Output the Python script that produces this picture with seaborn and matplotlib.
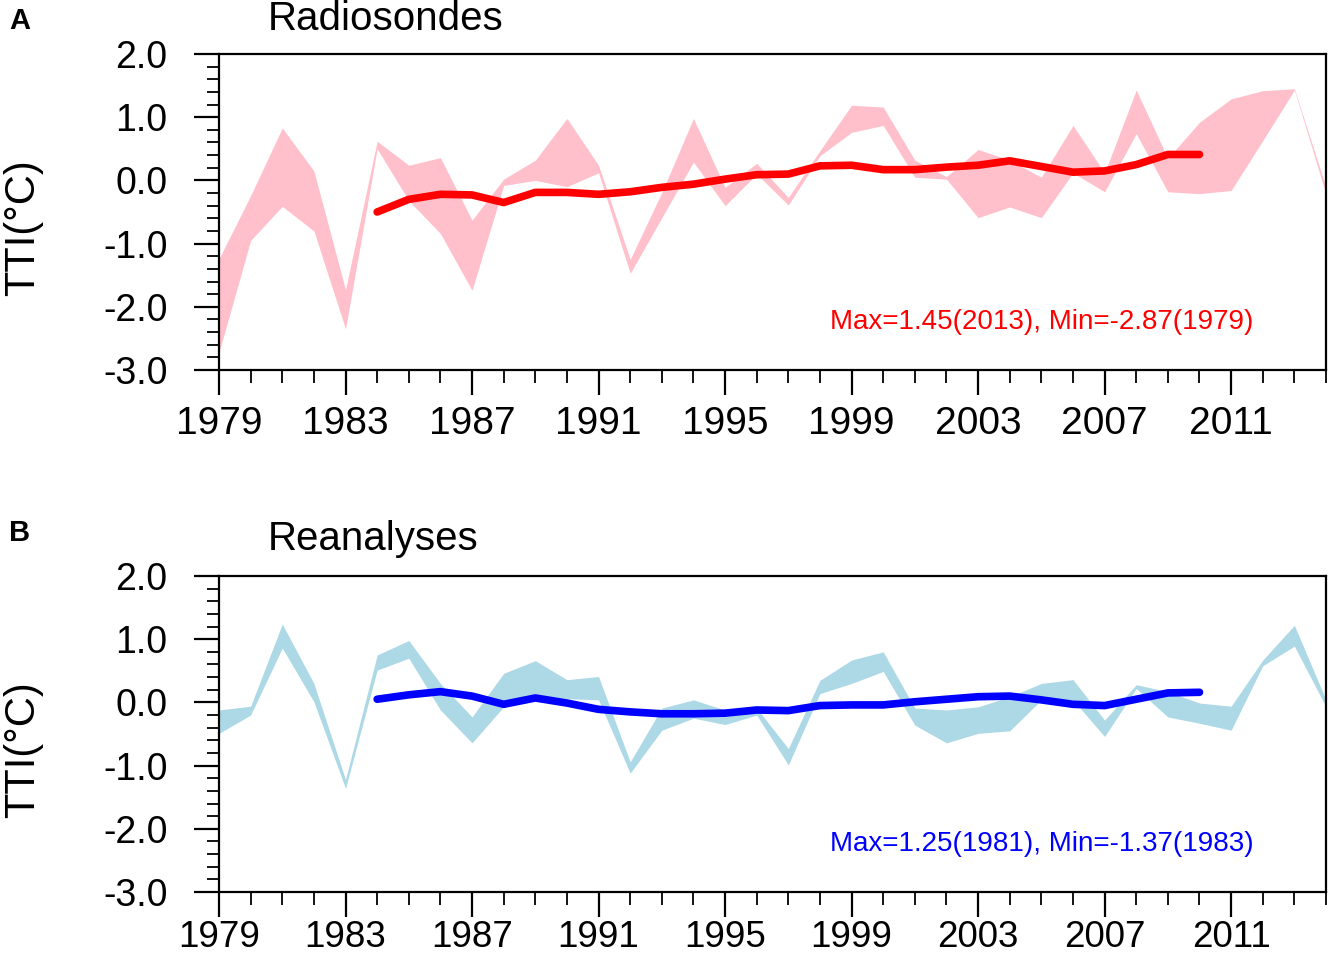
import matplotlib
matplotlib.use("Agg")
import matplotlib.pyplot as plt
import seaborn as sns
import pandas as pd
from matplotlib.ticker import FixedLocator, FixedFormatter, MultipleLocator

# ---------------- data ----------------
years = [1979, 1980, 1981, 1982, 1983, 1984, 1985, 1986, 1987, 1988, 1989, 1990,
         1991, 1992, 1993, 1994, 1995, 1996, 1997, 1998, 1999, 2000, 2001, 2002,
         2003, 2004, 2005, 2006, 2007, 2008, 2009, 2010, 2011, 2012, 2013, 2014]

radio_upper = [-1.24, -0.24, 0.83, 0.15, -1.73, 0.62, 0.24, 0.36, -0.63, 0.02, 0.32, 0.98,
               0.24, -1.25, -0.19, 0.98, -0.11, 0.27, -0.27, 0.47, 1.19, 1.16, 0.32, 0.06,
               0.49, 0.32, 0.05, 0.87, 0.12, 1.43, 0.35, 0.92, 1.29, 1.42, 1.45, -0.11]
radio_lower = [-2.72, -0.95, -0.41, -0.80, -2.35, 0.50, -0.32, -0.84, -1.74, -0.08, 0.00, -0.10,
               0.12, -1.47, -0.59, 0.29, -0.40, 0.10, -0.39, 0.39, 0.76, 0.87, 0.05, 0.02,
               -0.59, -0.42, -0.59, 0.12, -0.18, 0.74, -0.18, -0.21, -0.16, 0.63, 1.43, -0.22]

rean_upper = [-0.12, -0.06, 1.24, 0.30, -1.22, 0.75, 0.98, 0.30, -0.23, 0.46, 0.66, 0.36,
              0.41, -0.94, -0.09, 0.04, -0.12, -0.09, -0.73, 0.35, 0.67, 0.80, -0.09, -0.12,
              -0.07, 0.09, 0.30, 0.36, -0.28, 0.28, 0.17, -0.01, -0.06, 0.67, 1.22, 0.04]
rean_lower = [-0.49, -0.20, 0.86, 0.01, -1.36, 0.51, 0.70, -0.12, -0.64, -0.07, 0.12, 0.06,
              0.04, -1.12, -0.44, -0.25, -0.35, -0.20, -0.99, 0.14, 0.30, 0.49, -0.36, -0.64,
              -0.49, -0.45, 0.04, 0.04, -0.54, 0.22, -0.23, -0.33, -0.44, 0.58, 0.89, -0.07]

mean_years = [1984, 1985, 1986, 1987, 1988, 1989, 1990, 1991, 1992, 1993, 1994, 1995,
              1996, 1997, 1998, 1999, 2000, 2001, 2002, 2003, 2004, 2005, 2006, 2007,
              2008, 2009, 2010]
radio_mean = [-0.50, -0.30, -0.22, -0.23, -0.35, -0.19, -0.19, -0.22, -0.18, -0.11, -0.06, 0.02,
              0.09, 0.10, 0.23, 0.24, 0.17, 0.17, 0.21, 0.24, 0.31, 0.22, 0.13, 0.15,
              0.25, 0.41, 0.41]
rean_mean = [0.05, 0.12, 0.17, 0.10, -0.03, 0.07, -0.01, -0.11, -0.15, -0.18, -0.18, -0.17,
             -0.12, -0.13, -0.05, -0.04, -0.04, 0.01, 0.05, 0.09, 0.10, 0.04, -0.03, -0.05,
             0.05, 0.15, 0.16]

xtick_years = [1979, 1983, 1987, 1991, 1995, 1999, 2003, 2007, 2011]
xtick_labels = ["1979", "1983", "1987", "1991", "1995", "1999", "2003", "2007", "2011"]
ytick_vals = [-3.0, -2.0, -1.0, 0.0, 1.0, 2.0]
ytick_labels = ["-3.0", "-2.0", "-1.0", "0.0", "1.0", "2.0"]

panels = [
    dict(letter="A", title="Radiosondes", upper=radio_upper, lower=radio_lower,
         mean=radio_mean, fill="#FFC0CB", line="#FF0000",
         note="Max=1.45(2013), Min=-2.87(1979)"),
    dict(letter="B", title="Reanalyses", upper=rean_upper, lower=rean_lower,
         mean=rean_mean, fill="#ADD8E6", line="#0000FF",
         note="Max=1.25(1981), Min=-1.37(1983)"),
]

# ---------------- style ----------------
sns.set_theme(style="ticks")
plt.rcParams["font.family"] = ["Liberation Sans", "DejaVu Sans"]
plt.rcParams["text.color"] = "black"
plt.rcParams["axes.labelcolor"] = "black"
plt.rcParams["xtick.color"] = "black"
plt.rcParams["ytick.color"] = "black"
plt.rcParams["axes.edgecolor"] = "black"

W, H = 1328, 959
fig = plt.figure(figsize=(W / 100, H / 100), dpi=100)

ax_tops = [54, 576]
ax_h = 316
ax_left, ax_w = 219, 1107
title_baselines = [30, 550]
letter_baselines = [29, 541]
xlabel_pads = [8, 2]
xlabel_sizes = [28, 26.5]

for p, top, tb, lb, xpad, xls in zip(panels, ax_tops, title_baselines, letter_baselines,
                                     xlabel_pads, xlabel_sizes):
    ax = fig.add_axes([ax_left / W, 1 - (top + ax_h) / H, ax_w / W, ax_h / H])
    ax.fill_between(years, p["lower"], p["upper"], color=p["fill"], linewidth=0, zorder=1)
    df = pd.DataFrame({"year": mean_years, "val": p["mean"]})
    sns.lineplot(data=df, x="year", y="val", ax=ax, color=p["line"], linewidth=5.5,
                 solid_capstyle="round", zorder=3)

    ax.set_xlim(1979, 2014)
    ax.set_ylim(-3, 2)
    ax.xaxis.set_major_locator(FixedLocator(xtick_years))
    ax.xaxis.set_major_formatter(FixedFormatter(xtick_labels))
    ax.xaxis.set_minor_locator(MultipleLocator(1))
    ax.yaxis.set_major_locator(FixedLocator(ytick_vals))
    ax.yaxis.set_major_formatter(FixedFormatter(ytick_labels))
    ax.yaxis.set_minor_locator(MultipleLocator(0.2))

    for s in ax.spines.values():
        s.set_visible(True)
        s.set_linewidth(1.6)
        s.set_color("black")
    ax.tick_params(which="both", direction="out", top=False, right=False,
                   colors="black", width=1.6)
    ax.tick_params(which="major", length=18)
    ax.tick_params(which="minor", length=9, width=1.3)
    ax.tick_params(axis="x", which="major", labelsize=xls, pad=xpad)
    ax.tick_params(axis="y", which="major", labelsize=27, pad=19)

    ax.set_xlabel("")
    ax.set_ylabel("TTI(°C)", fontsize=30, color="black")
    ax.yaxis.set_label_coords(-0.159, 0.452)

    ax.text(0.743, 0.153, p["note"], transform=ax.transAxes, ha="center", va="center",
            color=p["line"], fontsize=20)

    fig.text(268 / W, 1 - tb / H, p["title"], fontsize=29, va="baseline", ha="left",
             color="black")
    fig.text(9 / W, 1 - lb / H, p["letter"], fontsize=21, fontweight="bold",
             va="baseline", ha="left", color="black")

fig.savefig("out.png", dpi=100)
